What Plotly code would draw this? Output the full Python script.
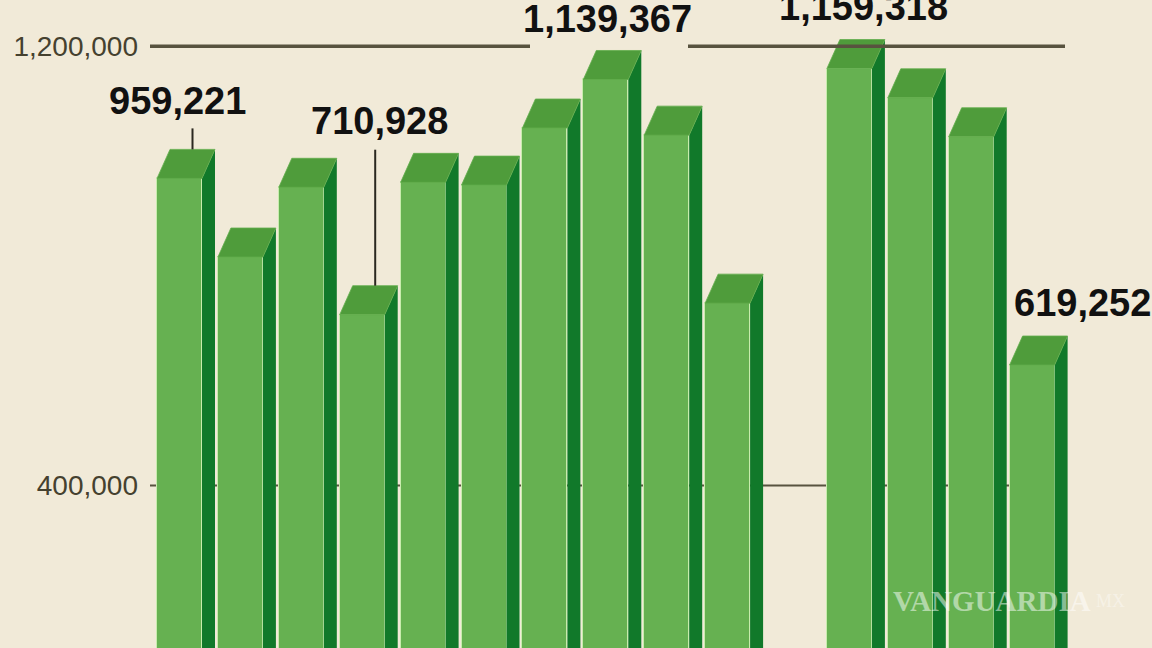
import plotly.graph_objects as go

# ---- data ----
posiciones = list(range(15))                 # 15 slots, slot 10 has no bar
valores = [959221, 816000, 943000, 710928, 952000, 947000, 1051000, 1139367,
           1038000, 732000, None, 1159318, 1106000, 1035000, 619252]
etiquetas_idx = [0, 3, 7, 11, 14]            # bars that carry a value label
ticks_y = [400000, 1200000]
ticks_y_txt = ["400,000", "1,200,000"]

# ---- style / geometry ----
W, H = 1152, 648
BG = "#f1ead8"
FRONT = "#66b151"
SIDE = "#11792a"
CAP = "#4f9c3b"
EDGE = "#c8ecad"
GRID = "#58533f"

PX_LEFT, PX_RIGHT = 150, 1080
X0_PX, PITCH = 179.5, 60.9                   # pixel centre of slot 0, slot pitch
Y0_PX, K = 705.0, 0.549e-3                   # pixel of value 0, px per unit
bar_w = 45 / PITCH
dx = 13 / PITCH
dy = 29 / K

x_range = [(PX_LEFT - X0_PX) / PITCH, (PX_RIGHT - X0_PX) / PITCH]
y_range = [(Y0_PX - H) / K, Y0_PX / K]


def px_to_paper_x(px):
    return (px - PX_LEFT) / (PX_RIGHT - PX_LEFT)


fig = go.Figure()

# front faces
fig.add_trace(go.Bar(
    x=posiciones, y=valores, width=bar_w,
    marker=dict(color=FRONT, line=dict(color=EDGE, width=1)),
    hoverinfo="skip", showlegend=False))

# side faces and caps (3D look) built from the same values
sx, sy, cx, cy = [], [], [], []
for p, v in zip(posiciones, valores):
    if v is None:
        continue
    r = p + bar_w / 2
    l = p - bar_w / 2
    sx += [r, r, r + dx, r + dx, r, None]
    sy += [0, v, v + dy, 0, 0, None]
    cx += [l, r, r + dx, l + dx, l, None]
    cy += [v, v, v + dy, v + dy, v, None]

fig.add_trace(go.Scatter(x=sx, y=sy, mode="lines", fill="toself",
                         fillcolor=SIDE, line=dict(width=0, color=SIDE),
                         hoverinfo="skip", showlegend=False))
fig.add_trace(go.Scatter(x=cx, y=cy, mode="lines", fill="toself",
                         fillcolor=CAP, line=dict(width=0.8, color="#62ad4c"),
                         hoverinfo="skip", showlegend=False))

# grid lines
gx_end = px_to_paper_x(1065)
fig.add_shape(type="line", xref="paper", yref="y", x0=0, x1=gx_end,
              y0=ticks_y[0], y1=ticks_y[0], layer="below",
              line=dict(color=GRID, width=2))
for a, b in [(0, px_to_paper_x(530)), (px_to_paper_x(688), gx_end)]:
    fig.add_shape(type="line", xref="paper", yref="y", x0=a, x1=b,
                  y0=ticks_y[1], y1=ticks_y[1], layer="above",
                  line=dict(color=GRID, width=3.5))

# value labels
shifts = {0: (-2.5, 77), 3: (17, 194), 7: (2, 60), 11: (14, 62), 14: (50, 62)}
leaders = {0: 21, 3: 136}
LABEL_FONT = dict(family="Liberation Sans, Arial, sans-serif",
                  size=38, color="#111111", weight="bold")
for i in etiquetas_idx:
    v = valores[i]
    xs, ys = shifts[i]
    fig.add_annotation(x=posiciones[i], y=v, xref="x", yref="y",
                       text=f"{v:,}", showarrow=False, xshift=xs, yshift=ys,
                       xanchor="center", yanchor="middle", font=LABEL_FONT)
    if i in leaders:
        fig.add_shape(type="line", xref="x", yref="y", ysizemode="pixel",
                      yanchor=v + dy, x0=posiciones[i] + dx, x1=posiciones[i] + dx,
                      y0=0, y1=leaders[i], layer="above",
                      line=dict(color="#2b2820", width=2))

# watermark
fig.add_annotation(xref="paper", yref="paper",
                   x=px_to_paper_x(992), y=1 - 601 / H,
                   xanchor="center", yanchor="middle",
                   text="VANGUARDIA", showarrow=False,
                   font=dict(family="Liberation Serif", size=29,
                             color="rgba(255,255,255,0.5)", weight="bold"))
fig.add_annotation(xref="paper", yref="paper",
                   x=px_to_paper_x(1110), y=1 - 601 / H,
                   xanchor="center", yanchor="middle",
                   text="MX", showarrow=False,
                   font=dict(family="Liberation Serif", size=18,
                             color="rgba(255,255,255,0.4)"))

fig.update_layout(
    width=W, height=H,
    margin=dict(l=PX_LEFT, r=W - PX_RIGHT, t=0, b=0, pad=0),
    paper_bgcolor=BG, plot_bgcolor=BG,
    bargap=0, showlegend=False,
    xaxis=dict(range=x_range, visible=False, fixedrange=True),
    yaxis=dict(range=y_range, tickvals=ticks_y, ticktext=ticks_y_txt,
               showgrid=False, zeroline=False, showline=False, ticks="",
               ticklabelstandoff=11, fixedrange=True,
               tickfont=dict(family="Liberation Sans", size=28, color="#45412f")),
)

fig.write_html("out.html", config={"displayModeBar": False},
               post_script="document.body.style.margin='0px';"
                           "document.body.style.background='" + BG + "';")
